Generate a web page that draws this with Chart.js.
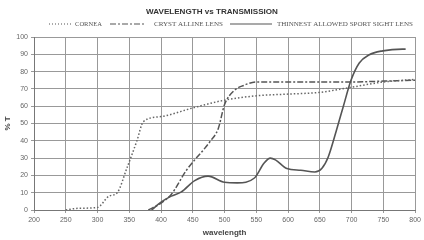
<!DOCTYPE html>
<html>
<head>
<meta charset="utf-8">
<script src="https://cdn.jsdelivr.net/npm/chart.js@4"></script>
<style>
  html, body { margin: 0; padding: 0; background: #fff; }
  #wrap { width: 424px; height: 240px; }
</style>
</head>
<body>
<div id="wrap"><canvas id="chart" width="424" height="240"></canvas></div>
<script>
// values
const corneaNm = [250, 270, 300, 318, 331, 346, 362, 372, 400, 450, 500, 550, 600, 650, 700, 750, 800];
const corneaT  = [0, 1, 1.5, 8, 10, 24, 40, 51, 54, 59, 63.5, 66, 67, 68, 71, 74, 75.5];

const lensNm = [380, 400, 416, 440, 478, 490, 500, 515, 530, 550, 600, 650, 700, 750, 800];
const lensT  = [0, 4, 9, 23, 40, 47, 61, 69, 72, 74, 74, 74, 74, 74.5, 75];

const sportNm = [385, 400, 416, 432, 453, 474, 500, 520, 547, 562, 572, 580, 598, 620, 642, 653, 663, 676, 687, 699, 712, 727, 749, 780, 785];
const sportT  = [0, 4.5, 8, 10.5, 17, 19.6, 16, 15.7, 18.5, 27, 30, 29, 24, 23, 22, 24, 30.5, 46, 60, 75, 85, 89.6, 92, 93, 93];

const seriesNames = ['CORNEA', 'CRYST ALLINE LENS', 'THINNEST ALLOWED SPORT SIGHT LENS'];
const chartTitle = 'WAVELENGTH vs TRANSMISSION';

function toPoints(xs, ys) {
    return xs.map(function(x, i) { return {x: x, y: ys[i]}; });
}

// draws text so it fills a given width
function fitText(ctx, text, x, y, width, weight, family, align) {
    ctx.font = weight + ' 10px ' + family;
    const size = 10 * width / ctx.measureText(text).width;
    ctx.font = weight + ' ' + size.toFixed(2) + 'px ' + family;
    ctx.textAlign = align || 'left';
    ctx.textBaseline = 'middle';
    ctx.fillText(text, x, y);
}

const headerPlugin = {
    id: 'header',
    afterDraw: function(chart) {
        const ctx = chart.ctx;
        ctx.save();
        ctx.fillStyle = '#333';
        fitText(ctx, chartTitle, 212, 12, 132, 'bold', '"Liberation Sans", Arial', 'center');

        const y = 24;
        const items = [
            {x1: 49, x2: 72, dash: [1, 2], text: seriesNames[0], tx: 75, tw: 27},
            {x1: 110, x2: 145, dash: [6, 2, 2, 2], text: seriesNames[1], tx: 154, tw: 69},
            {x1: 230, x2: 272, dash: [], text: seriesNames[2], tx: 277, tw: 136}
        ];
        items.forEach(function(it) {
            ctx.beginPath();
            ctx.setLineDash(it.dash);
            ctx.strokeStyle = '#555';
            ctx.lineWidth = 1.2;
            ctx.moveTo(it.x1, y);
            ctx.lineTo(it.x2, y);
            ctx.stroke();
            ctx.setLineDash([]);
            ctx.fillStyle = '#555';
            fitText(ctx, it.text, it.tx, y, it.tw, 'normal', '"Liberation Serif", serif');
        });
        ctx.restore();
    }
};

const tickFont = {family: '"Liberation Sans", Arial', size: 7};

new Chart(document.getElementById('chart'), {
    type: 'line',
    data: {
        datasets: [
            {
                label: seriesNames[0],
                data: toPoints(corneaNm, corneaT),
                borderColor: '#666',
                borderWidth: 1.5,
                borderDash: [1.5, 2],
                pointRadius: 0,
                cubicInterpolationMode: 'monotone'
            },
            {
                label: seriesNames[1],
                data: toPoints(lensNm, lensT),
                borderColor: '#555',
                borderWidth: 1.5,
                borderDash: [6, 2, 2, 2],
                pointRadius: 0,
                cubicInterpolationMode: 'monotone'
            },
            {
                label: seriesNames[2],
                data: toPoints(sportNm, sportT),
                borderColor: '#555',
                borderWidth: 1.6,
                pointRadius: 0,
                cubicInterpolationMode: 'monotone'
            }
        ]
    },
    options: {
        responsive: false,
        animation: false,
        layout: { padding: {top: 37, right: 4, left: 0, bottom: 0} },
        plugins: {
            legend: { display: false },
            title: { display: false },
            tooltip: { enabled: false }
        },
        scales: {
            x: {
                type: 'linear',
                min: 200,
                max: 800,
                ticks: { stepSize: 50, font: tickFont, color: '#666', padding: 3, maxRotation: 0 },
                grid: { color: '#999', tickLength: 3 },
                border: { color: '#777' },
                title: {
                    display: true,
                    text: 'wavelength',
                    font: {family: '"Liberation Sans", Arial', size: 8, weight: 'bold'},
                    color: '#444',
                    padding: {top: 0, bottom: 2}
                },
                afterFit: function(scale) { scale.height = 30; }
            },
            y: {
                min: 0,
                max: 100,
                ticks: { stepSize: 10, font: tickFont, color: '#666', padding: 3 },
                grid: { color: '#999', tickLength: 3 },
                border: { color: '#777' },
                title: {
                    display: true,
                    text: '% T',
                    font: {family: '"Liberation Sans", Arial', size: 8, weight: 'bold'},
                    color: '#444',
                    padding: {top: 3, bottom: 0}
                },
                afterFit: function(scale) { scale.width = 34; }
            }
        }
    },
    plugins: [headerPlugin]
});
</script>
</body>
</html>
